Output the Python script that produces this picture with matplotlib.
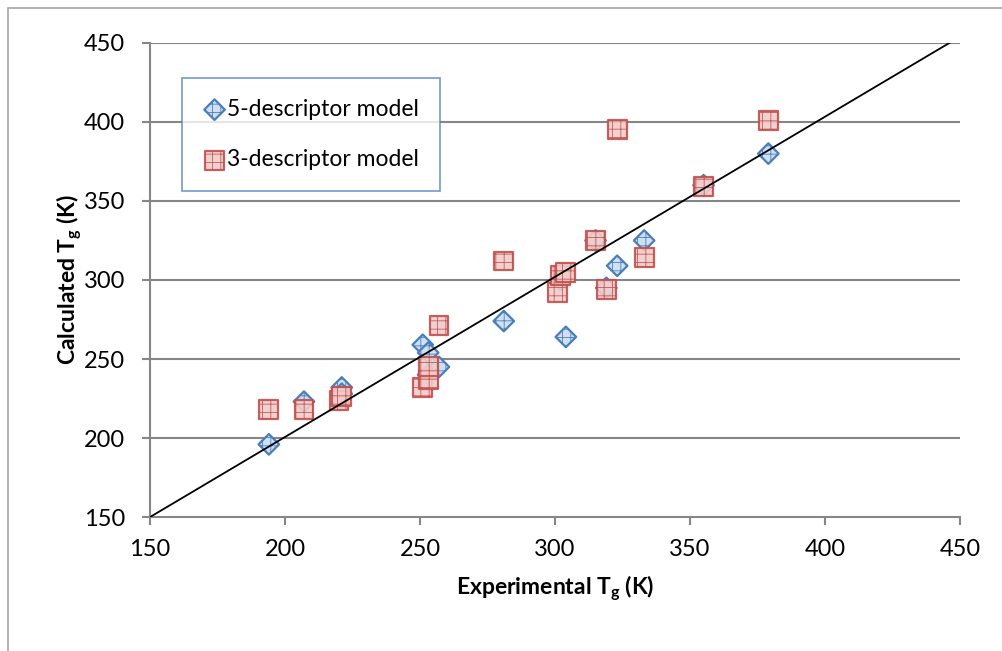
import matplotlib
matplotlib.use('Agg')
import matplotlib.pyplot as plt
from matplotlib.patches import Rectangle

plt.rcParams['font.family'] = ['Lato', 'DejaVu Sans']
plt.rcParams['mathtext.fontset'] = 'custom'
plt.rcParams['mathtext.rm'] = 'Lato'
plt.rcParams['mathtext.bf'] = 'Lato:bold'
plt.rcParams['hatch.linewidth'] = 0.6

# Данные: экспериментальные и рассчитанные Tg
exp_5 = [194, 207, 221, 221, 251, 253, 257, 253, 281, 304, 302, 319, 323, 315, 333, 355, 379]
calc_5 = [196, 223, 232, 228, 259, 254, 245, 240, 274, 264, 300, 295, 309, 325, 325, 360, 380]

exp_3 = [194, 207, 220, 221, 251, 253, 253, 257, 281, 301, 302, 304, 315, 319, 323, 333, 355, 379]
calc_3 = [218, 218, 224, 226, 232, 237, 245, 271, 312, 292, 303, 305, 325, 294, 395, 314, 359, 401]

ref_x = [150, 448]
ref_y = [150, 452]

ticks = [150, 200, 250, 300, 350, 400, 450]

fig = plt.figure(figsize=(10.03, 6.51), dpi=100)
ax = fig.add_axes([0.1496, 0.2058, 0.8076, 0.7282])

# рамка области диаграммы
fig.patches.append(Rectangle((8 / 1003, -0.1), 1.2, 1.1 - 8 / 651,
                             transform=fig.transFigure, fill=False,
                             edgecolor='#a6a6a6', linewidth=1.2))

gray = '#868686'
for y in ticks[1:]:
    ax.axhline(y, color=gray, linewidth=1.5, zorder=1)

plt.rcParams['hatch.color'] = '#4a7ebb'
ax.scatter(exp_5, calc_5, marker='D', s=110,
           facecolor='#cfe0f3', edgecolor='#4a7ebb', hatch='++',
           linewidth=1.6, label='5-descriptor model', zorder=3)
plt.rcParams['hatch.color'] = '#c0504d'
ax.scatter(exp_3, calc_3, marker='s', s=185,
           facecolor='#f0cccb', edgecolor='#c0504d', hatch='++',
           linewidth=1.6, alpha=0.9, label='3-descriptor model', zorder=4)
ax.plot(ref_x, ref_y, color='black', linewidth=1.3, zorder=5)

ax.set_xlim(150, 450)
ax.set_ylim(150, 450)
ax.set_xticks(ticks)
ax.set_yticks(ticks)
ax.tick_params(labelsize=17, color=gray, length=6, width=1.5)
ax.tick_params(axis='x', pad=10)
ax.tick_params(axis='y', pad=12)
for s in ['top', 'right']:
    ax.spines[s].set_visible(False)
for s in ['left', 'bottom']:
    ax.spines[s].set_color(gray)
    ax.spines[s].set_linewidth(1.5)

ax.set_xlabel(r'Experimental T$_\mathbf{g}$ (K)', fontsize=16.5, fontweight='bold', labelpad=10)
ax.set_ylabel(r'Calculated T$_\mathbf{g}$ (K)', fontsize=16.5, fontweight='bold', labelpad=-1)

leg = ax.legend(loc='upper left', bbox_to_anchor=(0.04, 0.926), fontsize=16.5,
                frameon=True, fancybox=False, labelspacing=1.3,
                borderpad=0.9, handletextpad=0.05, handlelength=1.0,
                borderaxespad=0, scatterpoints=1)
leg.get_frame().set_edgecolor('#4f81bd')
leg.get_frame().set_linewidth(1.2)

fig.savefig('out.png', dpi=100)
